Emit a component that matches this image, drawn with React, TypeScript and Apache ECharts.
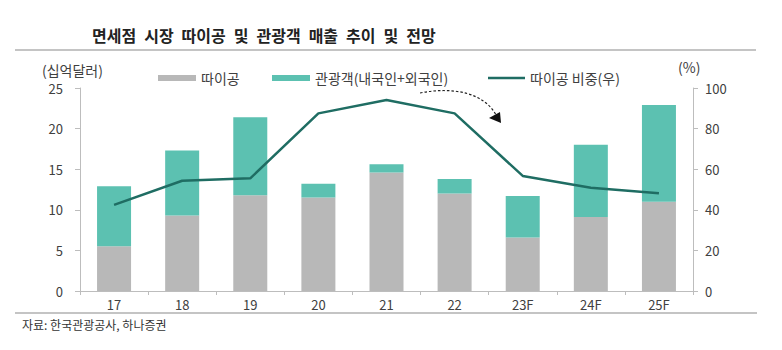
import React, { useEffect, useRef } from "react";
import * as echarts from "echarts";

const categories = ["17", "18", "19", "20", "21", "22", "23F", "24F", "25F"];
const daigou = [5.5, 9.3, 11.8, 11.5, 14.6, 12.0, 6.6, 9.1, 11.0];
const tourist = [7.4, 8.0, 9.6, 1.7, 1.0, 1.8, 5.1, 8.9, 11.9];
const daigouShare = [42.4, 54.3, 55.5, 87.5, 94.1, 87.5, 56.7, 50.9, 48.1];
const leftTicks = { min: 0, max: 25, interval: 5 };
const rightTicks = { min: 0, max: 100, interval: 20 };

const FONT = "'Noto Sans CJK KR', 'Noto Sans', sans-serif";
const GRAY = "#b8b8b8";
const TEAL = "#5cc1b1";
const LINE = "#1f6d63";
const AXIS = "#bdbdbd";
const LABEL = "#404040";

const TITLE = "면세점 시장 따이공 및 관광객 매출 추이 및 전망".split(" ").join("\u2002");

export default function App() {
  const ref = useRef<HTMLDivElement>(null);
  useEffect(() => {
    if (!ref.current) return;
    const chart = echarts.init(ref.current, undefined, { renderer: "svg" });
    const legendText = { fontFamily: FONT, fontSize: 14, color: LABEL };
    chart.setOption({
      animation: false,
      textStyle: { fontFamily: FONT },
      grid: { left: 80, right: 89, top: 88, bottom: 59, containLabel: false },
      legend: [
        {
          data: [{ name: "따이공", icon: "rect" }],
          left: 153, top: 66, itemWidth: 38, itemHeight: 6, textStyle: legendText,
        },
        {
          data: [{ name: "관광객(내국인+외국인)", icon: "rect" }],
          left: 267, top: 66, itemWidth: 38, itemHeight: 6, textStyle: legendText,
        },
        {
          data: [{ name: "따이공 비중(우)", icon: "rect", itemStyle: { color: LINE } }],
          left: 483, top: 66, itemWidth: 37, itemHeight: 2.5, textStyle: legendText,
        },
      ],
      xAxis: {
        type: "category",
        data: categories,
        boundaryGap: true,
        axisLine: { lineStyle: { color: AXIS, width: 1 } },
        axisTick: { show: true, length: 4, lineStyle: { color: AXIS } },
        axisLabel: { color: LABEL, fontSize: 13, fontFamily: FONT, margin: 7 },
      },
      yAxis: [
        {
          type: "value",
          min: leftTicks.min, max: leftTicks.max, interval: leftTicks.interval,
          splitLine: { show: false },
          axisLine: { show: true, lineStyle: { color: AXIS } },
          axisTick: { show: true, length: 5, lineStyle: { color: AXIS } },
          axisLabel: { color: LABEL, fontSize: 13, fontFamily: FONT, margin: 17 },
        },
        {
          type: "value",
          min: rightTicks.min, max: rightTicks.max, interval: rightTicks.interval,
          position: "right",
          splitLine: { show: false },
          axisLine: { show: true, lineStyle: { color: AXIS } },
          axisTick: { show: true, length: 5, lineStyle: { color: AXIS } },
          axisLabel: { color: LABEL, fontSize: 13, fontFamily: FONT, margin: 12 },
        },
      ],
      series: [
        {
          name: "따이공",
          type: "bar",
          stack: "total",
          data: daigou,
          barWidth: 34,
          itemStyle: { color: GRAY },
        },
        {
          name: "관광객(내국인+외국인)",
          type: "bar",
          stack: "total",
          data: tourist,
          barWidth: 34,
          itemStyle: { color: TEAL },
        },
        {
          name: "따이공 비중(우)",
          type: "line",
          yAxisIndex: 1,
          data: daigouShare,
          symbol: "none",
          showSymbol: false,
          itemStyle: { color: LINE },
          lineStyle: { color: LINE, width: 2.5 },
          z: 5,
        },
      ],
      graphic: [
        {
          type: "text", left: 92, top: 27,
          style: { text: TITLE, font: `bold 16px ${FONT}`, fill: "#222" },
        },
        {
          type: "line",
          shape: { x1: 15, y1: 50, x2: 756, y2: 50 },
          style: { stroke: "#b0b0b0", lineWidth: 1.5 },
        },
        {
          type: "line",
          shape: { x1: 15, y1: 313, x2: 757, y2: 313 },
          style: { stroke: "#b0b0b0", lineWidth: 1.5 },
        },
        {
          type: "text", left: 42, top: 63,
          style: { text: "(십억달러)", font: `14px ${FONT}`, fill: LABEL },
        },
        {
          type: "text", left: 678, top: 60,
          style: { text: "(%)", font: `14px ${FONT}`, fill: LABEL },
        },
        {
          type: "text", left: 22, top: 318,
          style: { text: "자료: 한국관광공사, 하나증권", font: `12px ${FONT}`, fill: "#333" },
        },
        {
          type: "bezierCurve",
          shape: { x1: 420, y1: 93, cpx1: 455, cpy1: 86, cpx2: 485, cpy2: 94, x2: 496, y2: 115 },
          style: { stroke: "#222", lineWidth: 1.2, lineDash: [2.5, 2], fill: "none" },
        },
        {
          type: "polygon",
          shape: { points: [[489, 118], [500, 112], [501, 123]] },
          style: { fill: "#111" },
        },
      ],
    });
    return () => chart.dispose();
  }, []);
  return (
    <div
      ref={ref}
      style={{ position: "fixed", left: 0, top: 0, width: 782, height: 350, background: "#fff" }}
    />
  );
}
